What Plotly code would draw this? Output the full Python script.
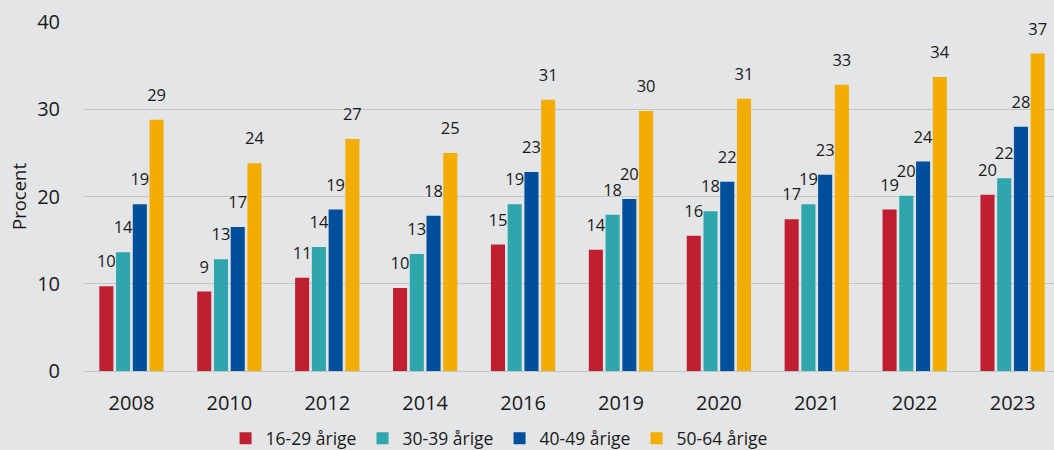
import plotly.graph_objects as go

years = ["2008", "2010", "2012", "2014", "2016", "2019", "2020", "2021", "2022", "2023"]
s16_29 = [9.7, 9.1, 10.7, 9.5, 14.5, 13.9, 15.5, 17.4, 18.5, 20.2]
s30_39 = [13.6, 12.8, 14.2, 13.4, 19.1, 17.9, 18.3, 19.1, 20.1, 22.1]
s40_49 = [19.1, 16.5, 18.5, 17.8, 22.8, 19.7, 21.7, 22.5, 24.0, 28.0]
s50_64 = [28.8, 23.8, 26.6, 25.0, 31.1, 29.8, 31.2, 32.8, 33.7, 36.4]
lab16_29 = ["10", "9", "11", "10", "15", "14", "16", "17", "19", "20"]
lab30_39 = ["14", "13", "14", "13", "19", "18", "18", "19", "20", "22"]
lab40_49 = ["19", "17", "19", "18", "23", "20", "22", "23", "24", "28"]
lab50_64 = ["29", "24", "27", "25", "31", "30", "31", "33", "34", "37"]
names = ["16-29 årige", "30-39 årige", "40-49 årige", "50-64 årige"]
colors = ["#c01f32", "#2ea6ac", "#004f9c", "#f3ac00"]

fig = go.Figure()
series = list(zip(names, [s16_29, s30_39, s40_49, s50_64],
                  [lab16_29, lab30_39, lab40_49, lab50_64], colors))
for i, (name, vals, labs, col) in enumerate(series):
    fig.add_trace(go.Bar(
        x=years, y=vals, name=name, marker_color=col, marker_line_width=0,
        offsetgroup=str(i), hoverinfo="skip",
    ))
for i, (name, vals, labs, col) in enumerate(series):
    fig.add_trace(go.Scatter(
        x=years, y=vals, text=labs, mode="markers+text", textposition="top center",
        marker=dict(size=22, opacity=0, color=col), offsetgroup=str(i),
        textfont=dict(size=16.5, color="#1a1a1a"), cliponaxis=False,
        showlegend=False, hoverinfo="skip",
    ))

fig.update_layout(
    width=1054, height=450,
    paper_bgcolor="#e4e5e7", plot_bgcolor="#e4e5e7",
    font=dict(family="Open Sans", size=16, color="#1a1a1a"),
    margin=dict(l=83, r=0, t=22, b=79, autoexpand=False),
    barmode="group", bargap=0.316, bargroupgap=0.16,
    scattermode="group", scattergap=0.316,
    showlegend=True,
    legend=dict(orientation="h", x=0.429, xanchor="center", yref="container",
                y=0.066, yanchor="top",
                font=dict(size=17.5), itemwidth=30, traceorder="normal",
                entrywidth=92),
    xaxis=dict(type="category", showgrid=False, ticks="", tickfont=dict(size=20),
               ticklabelstandoff=18, range=[-0.495, 9.423]),
    yaxis=dict(range=[0, 40], dtick=10, showgrid=True, gridcolor="#c3c4c6", gridwidth=1,
               zeroline=True, zerolinecolor="#c3c4c6", zerolinewidth=1,
               title=dict(text="Procent", font=dict(size=18.5), standoff=5),
               tickfont=dict(size=20), ticks="", ticklabelstandoff=22),
)
fig.write_html("out.html", post_script="document.body.style.margin='0';",
               config={"displayModeBar": False})
